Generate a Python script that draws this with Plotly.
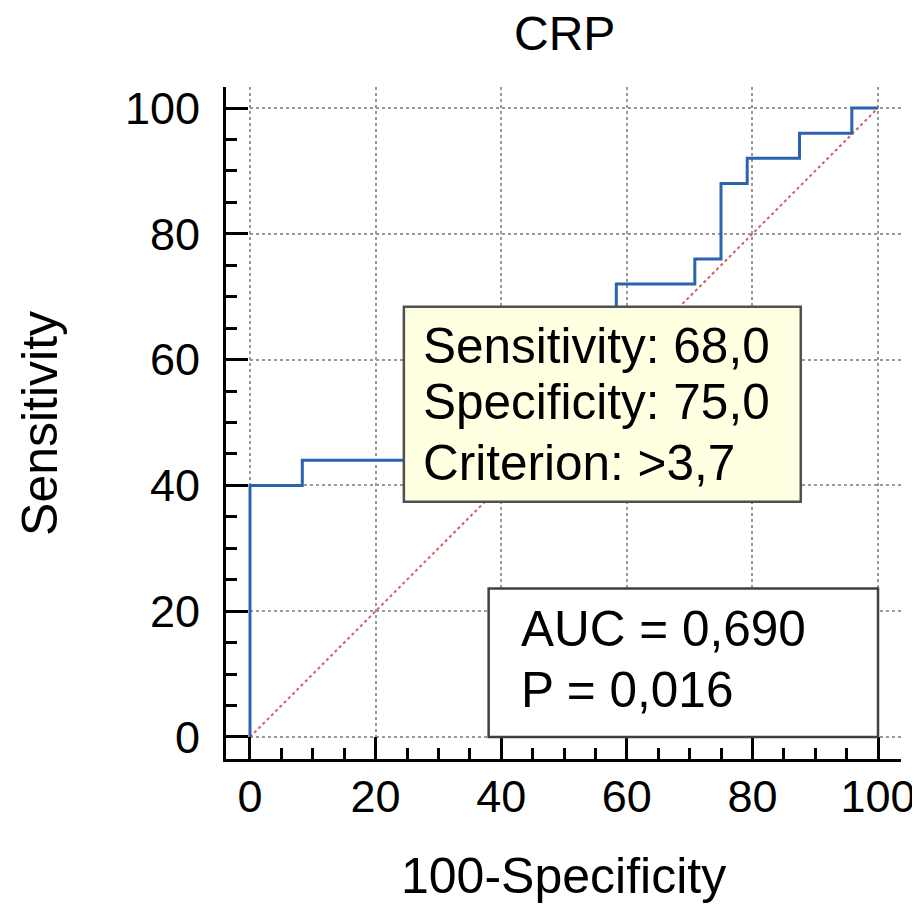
import plotly.graph_objects as go

# ROC curve step points (100-Specificity, Sensitivity)
roc_x = [0, 0, 8.33, 25.0, 58.33, 70.83, 75.0, 79.17, 87.5, 95.83, 100]
roc_y = [0, 40, 44, 68, 72, 76, 88, 92, 96, 100, 100]

# reference diagonal
diag_x = [0, 100]
diag_y = [0, 100]

tick_vals = [0, 20, 40, 60, 80, 100]
tick_text = ["0", "20", "40", "60", "80", "100"]

crit_sens = "68,0"
crit_spec = "75,0"
crit_val = ">3,7"
auc_text = "0,690"
p_text = "0,016"

FONT = "Liberation Sans, Arial, sans-serif"

fig = go.Figure()
fig.add_trace(go.Scatter(x=diag_x, y=diag_y, mode="lines",
                         line=dict(color="#C86464", width=2, dash="dot"),
                         showlegend=False, hoverinfo="skip"))
fig.add_trace(go.Scatter(x=roc_x, y=roc_y, mode="lines", line_shape="hv",
                         line=dict(color="#2B63AE", width=3),
                         showlegend=False))

axis_common = dict(
    tickvals=tick_vals, ticktext=tick_text,
    showgrid=True, gridcolor="#999999", griddash="dot", gridwidth=2,
    zeroline=False, showline=True, linecolor="black", linewidth=3,
    ticks="inside", ticklen=22, tickwidth=3, tickcolor="black",
    minor=dict(dtick=5, tick0=0, ticks="inside", ticklen=11, tickwidth=3,
               tickcolor="black", showgrid=False),
    tickfont=dict(family=FONT, size=45, color="black"),
    fixedrange=True, automargin=False,
)

fig.update_xaxes(range=[-3.82, 103.66], ticklabelstandoff=-4, **axis_common)
fig.update_yaxes(range=[-3.50, 103.34], ticklabelstandoff=14, **axis_common)

shapes = [
    dict(type="rect", xref="x", yref="y", x0=24.5, x1=87.7, y0=37.4, y1=68.4,
         fillcolor="#FFFFE1", line=dict(color="#505050", width=2.5), layer="above"),
    dict(type="rect", xref="x", yref="y", x0=38.0, x1=100.0, y0=0.0, y1=23.6,
         fillcolor="white", line=dict(color="#404040", width=2.5), layer="above"),
]

box_font = dict(family=FONT, size=49.5, color="black")
title_font = dict(family=FONT, size=50, color="black")
annotations = [
    dict(text="Sensitivity: " + crit_sens, x=27.3, y=62.3, xref="x", yref="y",
         xanchor="left", yanchor="middle", showarrow=False, font=box_font),
    dict(text="Specificity: " + crit_spec, x=27.3, y=53.3, xref="x", yref="y",
         xanchor="left", yanchor="middle", showarrow=False, font=box_font),
    dict(text="Criterion: " + crit_val.replace(">", "&gt;"), x=27.3, y=43.6, xref="x", yref="y",
         xanchor="left", yanchor="middle", showarrow=False, font=box_font),
    dict(text="AUC = " + auc_text, x=42.9, y=17.2, xref="x", yref="y",
         xanchor="left", yanchor="middle", showarrow=False, font=box_font),
    dict(text="P = " + p_text, x=42.9, y=7.6, xref="x", yref="y",
         xanchor="left", yanchor="middle", showarrow=False, font=box_font),
    dict(text="CRP", x=0.502, y=1.079, xref="paper", yref="paper",
         xanchor="center", yanchor="middle", showarrow=False,
         font=dict(family=FONT, size=48, color="black")),
    dict(text="100-Specificity", x=0.50, y=-0.174, xref="paper", yref="paper",
         xanchor="center", yanchor="middle", showarrow=False, font=title_font),
    dict(text="Sensitivity", x=-0.2756, y=0.5, xref="paper", yref="paper",
         xanchor="center", yanchor="middle", textangle=-90, showarrow=False, font=title_font),
]

# page body adds an 8px offset, so the figure is 8px smaller and margins shifted
fig.update_layout(
    width=912, height=905,
    margin=dict(l=218, r=19, t=79, b=154, autoexpand=False),
    paper_bgcolor="white", plot_bgcolor="white",
    shapes=shapes, annotations=annotations,
    showlegend=False,
    font=dict(family=FONT, size=48, color="black"),
)

fig.write_html("out.html")
